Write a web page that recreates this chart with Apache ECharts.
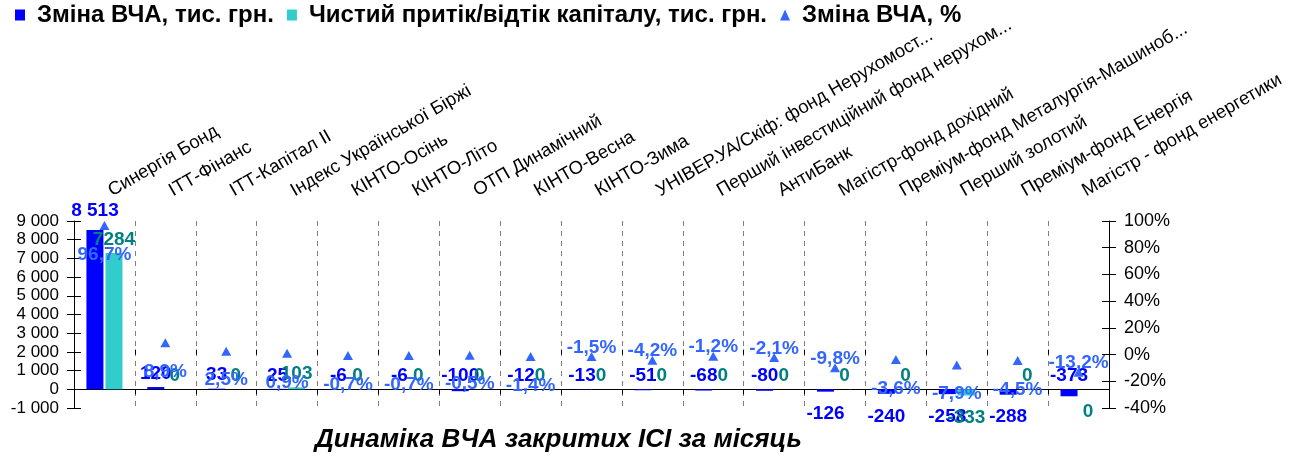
<!DOCTYPE html>
<html>
<head>
<meta charset="utf-8">
<script src="https://cdn.jsdelivr.net/npm/echarts@6/dist/echarts.min.js"></script>
<style>
    html, body { margin: 0; padding: 0; background: #fff; }
    #chart { width: 1306px; height: 458px; }
</style>
</head>
<body>
<div id="chart"></div>
<script>
// фонди
const categories = [
    'Синергія Бонд',
    'ІТТ-Фінанс',
    'ІТТ-Капітал ІІ',
    'Індекс Української Біржі',
    'КІНТО-Осінь',
    'КІНТО-Літо',
    'ОТП Динамічний',
    'КІНТО-Весна',
    'КІНТО-Зима',
    'УНІВЕР.УА/Скіф: фонд Нерухомост...',
    'Перший інвестиційний фонд нерухом...',
    'АнтиБанк',
    'Магістр-фонд дохідний',
    'Преміум-фонд Металургія-Машиноб...',
    'Перший золотий',
    'Преміум-фонд Енергія',
    'Магістр - фонд енергетики',
]
const vcaChange = [8513, 120, 33, 25, -6, -6, -100, -12, -13, -51, -68, -80, -126, -240, -258, -288, -373] // тис. грн.
const netFlow = [7284, 0, 0, 103, 0, 0, 0, 0, 0, 0, 0, 0, 0, 0, -333, 0, 0] // тис. грн.
const vcaPct = [96.7, 8.9, 2.5, 0.9, -0.7, -0.7, -0.5, -1.4, -1.5, -4.2, -1.2, -2.1, -9.8, -3.6, -7.9, -4.5, -13.2] // %

// куди ставити підписи
const vcaLabelSide = ['top', 'top', 'top', 'top', 'top', 'top', 'top', 'top', 'top', 'top', 'top', 'top', 'bottom', 'bottom', 'bottom', 'bottom', 'top']
const flowLabelSide = ['top', 'top', 'top', 'top', 'top', 'top', 'top', 'top', 'top', 'top', 'top', 'top', 'top', 'top', 'bottom', 'top', 'bottom']
const pctLabelSide = ['bottom', 'bottom', 'bottom', 'bottom', 'bottom', 'bottom', 'bottom', 'bottom', 'top', 'top', 'top', 'top', 'top', 'bottom', 'bottom', 'bottom', 'top']

const FONT = '"Liberation Sans", Arial, sans-serif'
const names = ['Зміна ВЧА, тис. грн.', 'Чистий притік/відтік капіталу, тис. грн.', 'Зміна ВЧА, %']

function spaced(v) {
    return String(v).replace(/\B(?=(\d{3})+(?!\d))/g, ' ')
}
function pct(v) {
    return v.toFixed(1).replace('.', ',') + '%'
}

const chart = echarts.init(document.getElementById('chart'))

const leftAxisBase = {
    type: 'value',
    position: 'left',
    min: -1000,
    max: 9000,
    interval: 1000,
    splitLine: { show: false },
}
const rightAxisBase = {
    type: 'value',
    position: 'right',
    min: -40,
    max: 100,
    interval: 20,
    splitLine: { show: false },
}
const catAxisBase = {
    type: 'category',
    data: categories,
    boundaryGap: true,
}

let option = {
    animation: false,
    textStyle: { fontFamily: FONT },
    color: ['#0000FF', '#33CCCC', '#3366FF'],
    title: {
        text: 'Динаміка ВЧА закритих ІСІ за місяць',
        left: 315,
        top: 427,
        padding: 0,
        textStyle: { fontFamily: FONT, fontSize: 26, fontWeight: 'bold', fontStyle: 'italic', color: '#000' },
    },
    legend: {
        left: 15,
        top: 3,
        padding: 0,
        itemWidth: 10,
        itemHeight: 11,
        itemGap: 13,
        textStyle: { fontFamily: FONT, fontSize: 24, fontWeight: 'bold', color: '#000', padding: [0, 0, 0, 7] },
        data: [
            { name: names[0], icon: 'rect' },
            { name: names[1], icon: 'rect' },
            { name: names[2], icon: 'triangle' },
        ],
    },
    grid: { left: 74, right: 197, top: 221, bottom: 50 },
    xAxis: [
        // підписи категорій зверху
        Object.assign({}, catAxisBase, {
            position: 'top',
            axisLine: { show: false, onZero: false },
            axisTick: { show: false },
            axisLabel: {
                interval: 0,
                rotate: -30,
                align: 'left',
                margin: 26,
                padding: [0, 0, 0, 6],
                fontSize: 18.5,
                color: '#000',
                fontFamily: FONT,
            },
            splitLine: { show: false },
        }),
        // вісь по нулю з розділювачами
        Object.assign({}, catAxisBase, {
            position: 'bottom',
            axisLine: { onZero: true, lineStyle: { color: '#000', width: 1 } },
            axisTick: { show: true, interval: 0, length: 5, lineStyle: { color: '#000' } },
            axisLabel: { show: false },
            splitLine: { show: true, interval: 0, lineStyle: { color: '#808080', type: [5, 5], width: 1 } },
        }),
        Object.assign({}, catAxisBase, {
            position: 'bottom',
            axisLine: { show: false, onZero: true },
            axisTick: { show: true, inside: true, interval: 0, length: 5, lineStyle: { color: '#000' } },
            axisLabel: { show: false },
            splitLine: { show: false },
        }),
    ],
    yAxis: [
        Object.assign({}, leftAxisBase, {
            axisLine: { show: true, lineStyle: { color: '#000' } },
            axisTick: { show: true, length: 7, lineStyle: { color: '#000' } },
            axisLabel: { margin: 15, fontSize: 17, color: '#000', fontFamily: FONT, formatter: (v) => spaced(v) },
        }),
        Object.assign({}, rightAxisBase, {
            axisLine: { show: true, lineStyle: { color: '#000' } },
            axisTick: { show: true, length: 7, lineStyle: { color: '#000' } },
            axisLabel: { margin: 15, fontSize: 18, color: '#000', fontFamily: FONT, formatter: '{value}%' },
        }),
        Object.assign({}, leftAxisBase, {
            axisLine: { show: false },
            axisTick: { show: true, inside: true, length: 7, lineStyle: { color: '#000' } },
            axisLabel: { show: false },
        }),
        Object.assign({}, rightAxisBase, {
            axisLine: { show: false },
            axisTick: { show: true, inside: true, length: 7, lineStyle: { color: '#000' } },
            axisLabel: { show: false },
        }),
    ],
    series: [
        {
            name: names[0],
            type: 'bar',
            xAxisIndex: 0,
            yAxisIndex: 0,
            barWidth: 17,
            barGap: '12%',
            data: vcaChange.map((v, i) => ({
                value: v,
                label: {
                    position: vcaLabelSide[i],
                    distance: vcaLabelSide[i] === 'bottom' ? 13 : v > 1000 ? 10 : 4,
                },
            })),
            label: {
                show: true,
                fontSize: 19,
                fontWeight: 'bold',
                fontFamily: FONT,
                color: '#0000FF',
                formatter: (p) => spaced(p.value),
            },
            z: 2,
        },
        {
            name: names[1],
            type: 'bar',
            xAxisIndex: 0,
            yAxisIndex: 0,
            barWidth: 17,
            data: netFlow.map((v, i) => ({
                value: v,
                label: { position: flowLabelSide[i], distance: flowLabelSide[i] === 'top' ? 4 : 13 },
            })),
            label: {
                show: true,
                fontSize: 19,
                fontWeight: 'bold',
                fontFamily: FONT,
                color: '#008080',
                formatter: (p) => String(p.value),
            },
            z: 3,
        },
        {
            name: names[2],
            type: 'line',
            xAxisIndex: 0,
            yAxisIndex: 1,
            data: vcaPct.map((v, i) => ({
                value: v,
                label: { position: pctLabelSide[i], distance: pctLabelSide[i] === 'top' ? -5 : 15 },
            })),
            symbol: 'triangle',
            symbolSize: [10, 9],
            lineStyle: { width: 0, opacity: 0 },
            itemStyle: { color: '#3366FF' },
            label: {
                show: true,
                fontSize: 19,
                fontWeight: 'bold',
                fontFamily: FONT,
                color: '#3366FF',
                formatter: (p) => pct(p.value),
            },
            z: 4,
        },
    ],
}

chart.setOption(option)
</script>
</body>
</html>
